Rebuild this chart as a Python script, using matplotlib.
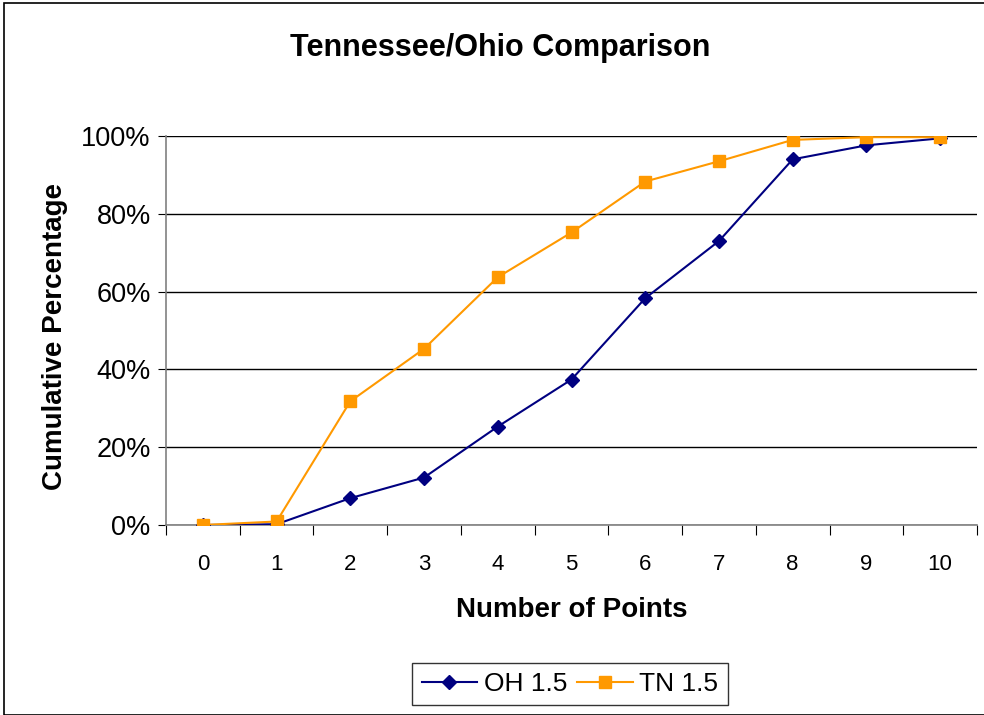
import matplotlib
matplotlib.use("Agg")
import matplotlib.pyplot as plt
from matplotlib.patches import Rectangle
from matplotlib.ticker import FixedLocator, NullFormatter, FuncFormatter

points = list(range(11))
point_labels = [str(p) for p in points]
oh_values = [0.0, 0.2, 6.9, 12.2, 25.3, 37.4, 58.3, 73.0, 94.0, 97.6, 99.4]
tn_values = [0.0, 0.9, 31.8, 45.3, 63.7, 75.2, 88.3, 93.5, 99.0, 99.7, 99.7]
y_ticks = [0, 20, 40, 60, 80, 100]

plt.rcParams['font.family'] = ['Liberation Sans', 'DejaVu Sans']

W, H = 984, 715
fig = plt.figure(figsize=(W / 100, H / 100), dpi=100)
fig.patches.append(Rectangle((4 / W, 0), 1, 1 - 3 / H, transform=fig.transFigure,
                             fill=False, edgecolor='black', linewidth=1.2))

left, right, top, bottom = 166, 977, 136, 525
ax = fig.add_axes([left / W, 1 - bottom / H, (right - left) / W, (bottom - top) / H])

ax.plot(points, oh_values, color='#000080', marker='D', markersize=7, linewidth=1.5,
        label='OH 1.5', zorder=3)
ax.plot(points, tn_values, color='#FF9900', marker='s', markersize=8, linewidth=1.5,
        label='TN 1.5', zorder=3)

ax.set_xlim(-0.5, 10.5)
ax.set_ylim(0, 100)
ax.set_yticks(y_ticks)
ax.yaxis.set_major_formatter(FuncFormatter(lambda v, p: f"{int(v)}%"))
ax.grid(axis='y', color='black', linewidth=1)
ax.set_axisbelow(True)

ax.xaxis.set_major_locator(FixedLocator([p + 0.5 for p in [-1] + points]))
ax.xaxis.set_major_formatter(NullFormatter())
ax.xaxis.set_minor_locator(FixedLocator(points))
ax.set_xticklabels(point_labels, minor=True)
ax.tick_params(axis='x', which='major', length=7, direction='out', color='black')
ax.tick_params(axis='x', which='minor', length=0, pad=21, labelsize=16)
ax.tick_params(axis='y', length=6, direction='out', labelsize=19.5, pad=5)

for s in ['top', 'right']:
    ax.spines[s].set_visible(False)
for s in ['left', 'bottom']:
    ax.spines[s].set_color('#808080')
    ax.spines[s].set_linewidth(1.2)

fig.text(500 / W, 1 - 48 / H, 'Tennessee/Ohio Comparison', ha='center', va='center',
         fontsize=22, fontweight='bold')
fig.text(55 / W, 1 - 336 / H, 'Cumulative Percentage', ha='center', va='center',
         rotation=90, fontsize=20, fontweight='bold')
fig.text(572 / W, 1 - 610 / H, 'Number of Points', ha='center', va='center',
         fontsize=20, fontweight='bold')

leg = fig.legend(loc='center', bbox_to_anchor=(570 / W, 1 - 684 / H), ncol=2,
                 fontsize=19, frameon=True, fancybox=False, edgecolor='black',
                 handlelength=2.1, columnspacing=0.4, handletextpad=0.25,
                 borderpad=0.35, borderaxespad=0)
leg.get_frame().set_linewidth(1.0)

fig.savefig('out.png', dpi=100)
